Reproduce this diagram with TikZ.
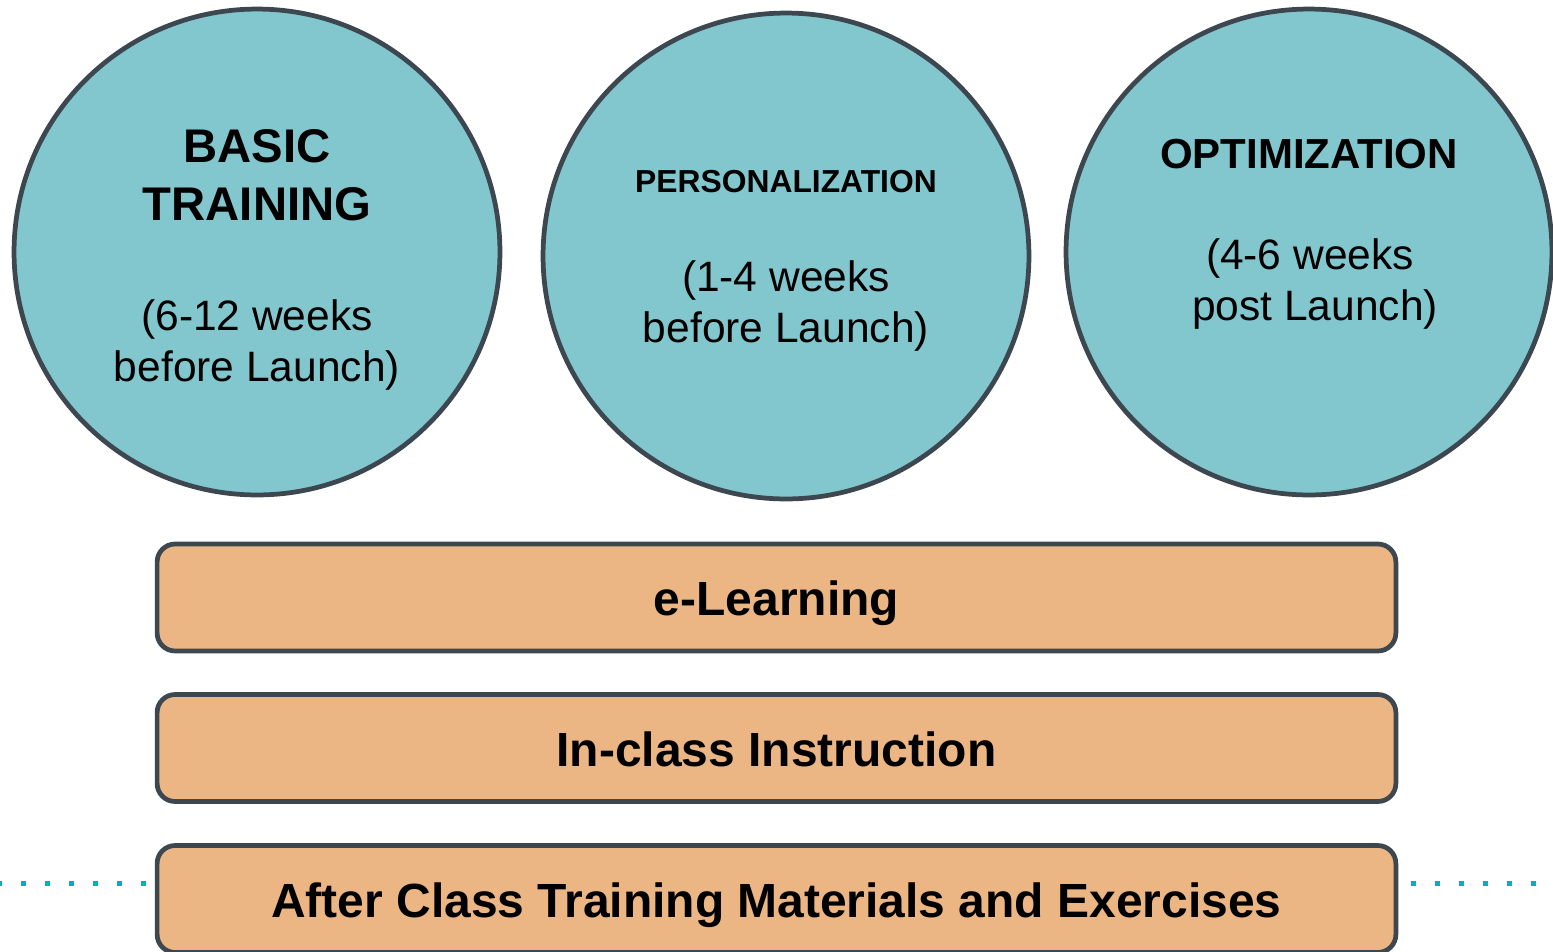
\documentclass[tikz,border=0pt]{standalone}
\usepackage{fontspec}
\setmainfont{Liberation Sans}
\usetikzlibrary{positioning}
\definecolor{phasefill}{HTML}{83C7CE}
\definecolor{layerfill}{HTML}{ECB584}
\definecolor{rim}{HTML}{3D4750}
\definecolor{dotcol}{HTML}{00AFC0}
\tikzset{
  phase/.style={circle,draw=rim,fill=phasefill,line width=2.7pt,minimum size=9.72cm,inner sep=0pt},
  layer/.style={rectangle,rounded corners=0.36cm,draw=rim,fill=layerfill,line width=2.7pt,
    minimum width=24.78cm,minimum height=2.14cm,text height=20.8pt,text depth=0pt,
    font=\bfseries\fontsize{27.3}{32}\selectfont},
  txt/.style={anchor=base,inner sep=0pt,font=\fontsize{24.2}{28}\selectfont},
  ttl/.style={anchor=base,inner sep=0pt,font=\bfseries\fontsize{26.9}{32}\selectfont},
  dotline/.style={dotcol,line width=0.1cm,dash pattern=on 0.1cm off 0.38cm}
}

\begin{document}
\begin{tikzpicture}[x=0.02cm,y=-0.02cm]
\useasboundingbox (0,0) rectangle (1553,951);

% phases
\node[phase] (basic) at (257,252) {};
\node[phase] (pers) at (786,256) {};
\node[phase] (opt) at (1309,252) {};

\node[ttl] (basic1) at (257,162) {BASIC};
\node[ttl] (basic2) at (257,220) {TRAINING};
\node[txt] (basic3) at (257,330) {(6-12 weeks};
\node[txt] (basic4) at (257,381) {before Launch)};

\node[ttl,font=\bfseries\fontsize{18.1}{22}\selectfont] (pers1) at (786,192) {PERSONALIZATION};
\node[txt] (pers2) at (786,291) {(1-4 weeks};
\node[txt] (pers3) at (786,342) {before Launch)};

\node[ttl,font=\bfseries\fontsize{23.9}{28}\selectfont] (opt1) at (1309,168) {OPTIMIZATION};
\node[txt] (opt2) at (1310,269) {(4-6 weeks};
\node[txt] (opt3) at (1315,320) {post Launch)};

% layers
\node[layer] (elearn) at (776.5,597.5) {e-Learning};
\node[layer] (inclass) at (776.5,748) {In-class Instruction};
\node[layer] (after) at (776.5,899) {After Class Training Materials and Exercises};

\coordinate (dl) at (-2.5,883);
\coordinate (dr) at (1540,883);
\draw[dotline,shorten >=0.16cm] (dl) -- (dl -| after.west);
\draw[dotline,shorten <=0.26cm] (after.east |- dr) -- (dr);
\end{tikzpicture}
\end{document}
